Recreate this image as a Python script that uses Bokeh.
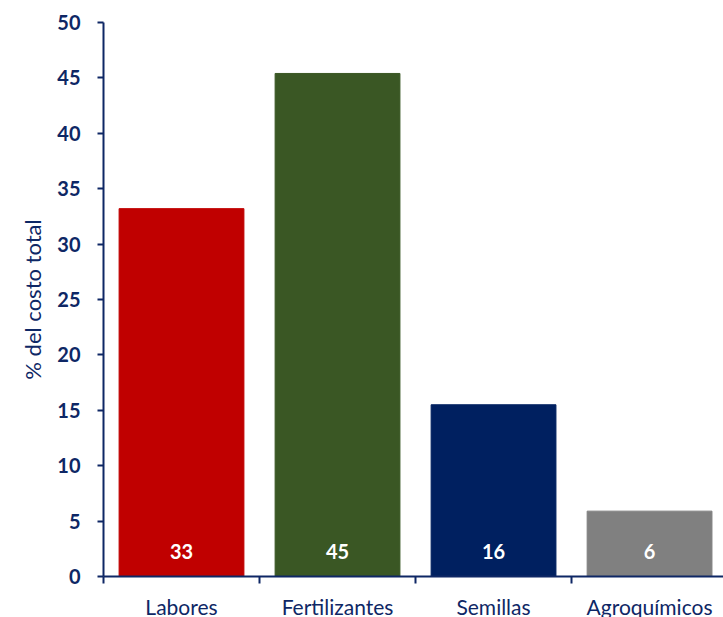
from bokeh.plotting import figure
from bokeh.models import Range1d, FixedTicker, ColumnDataSource
from bokeh.core.properties import value
from bokeh.embed import file_html
from bokeh.resources import INLINE

categories = ["Labores", "Fertilizantes", "Semillas", "Agroquímicos"]
values = [33.2, 45.4, 15.5, 5.9]
labels = ["33", "45", "16", "6"]
colors = ["#C00000", "#3A5724", "#002060", "#808080"]
y_ticks = [0, 5, 10, 15, 20, 25, 30, 35, 40, 45, 50]

NAVY = "#0E2765"
xs = list(range(len(categories)))

src = ColumnDataSource(dict(x=xs, top=values, color=colors, lab=labels,
                            ly=[2.3] * len(xs), cat=categories))

p = figure(width=723, height=617, output_backend="svg", toolbar_location=None,
           x_range=Range1d(-0.5, 3.474), y_range=Range1d(0, 50),
           frame_width=620, frame_height=554,
           min_border_left=103, min_border_top=22, min_border_bottom=41,
           min_border_right=0)
p.outline_line_color = None
p.grid.grid_line_color = None
p.background_fill_color = "white"
p.border_fill_color = "white"

p.vbar(x="x", top="top", width=0.8, bottom=0, color="color", source=src)
p.text(x="x", y="ly", text="lab", source=src, text_color="white",
       text_font=value("Lato"), text_font_style="bold", text_font_size="20px",
       text_align="center", text_baseline="middle")

# y axis
ya = p.yaxis[0]
ya.ticker = FixedTicker(ticks=y_ticks)
ya.axis_line_color = NAVY
ya.axis_line_width = 2
ya.major_tick_line_color = NAVY
ya.major_tick_line_width = 2
ya.major_tick_in = 0
ya.major_tick_out = 6
ya.minor_tick_line_color = None
ya.major_label_text_font = "Lato"
ya.major_label_text_font_style = "bold"
ya.major_label_text_font_size = "20px"
ya.major_label_text_color = NAVY
ya.major_label_standoff = 17
ya.axis_label = "% del costo total"
ya.axis_label_text_font = "Lato"
ya.axis_label_text_font_style = "normal"
ya.axis_label_text_font_size = "22px"
ya.axis_label_text_color = NAVY
ya.axis_label_standoff = 8

# x axis
xa = p.xaxis[0]
xa.ticker = FixedTicker(ticks=xs, minor_ticks=[-0.5, 0.5, 1.5, 2.5, 3.5])
xa.major_label_overrides = {i: c for i, c in enumerate(categories)}
xa.axis_line_color = NAVY
xa.axis_line_width = 2
xa.major_tick_line_color = None
xa.major_tick_out = 0
xa.major_tick_in = 0
xa.minor_tick_line_color = NAVY
xa.minor_tick_line_width = 2
xa.minor_tick_in = 0
xa.minor_tick_out = 7
xa.major_label_text_font = "Lato"
xa.major_label_text_font_size = "21px"
xa.major_label_text_color = NAVY
xa.major_label_standoff = 10

open("out.html", "w").write(file_html(p, INLINE))
